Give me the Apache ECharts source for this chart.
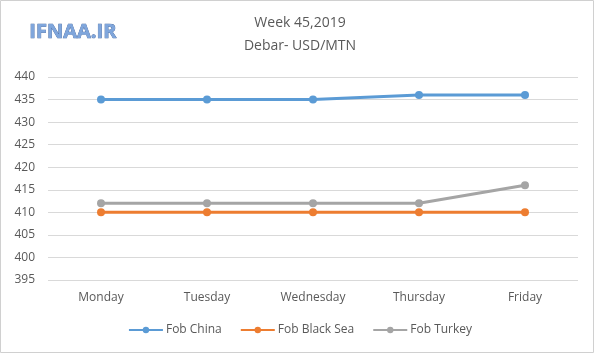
<!DOCTYPE html>
<html><head><meta charset="utf-8">
<script src="https://cdn.jsdelivr.net/npm/echarts@6/dist/echarts.min.js"></script>
<style>html,body{margin:0;padding:0;background:#fff}#c{width:600px;height:357px}</style>
</head><body><div id="c"></div>
<script>
const categories = ['Monday','Tuesday','Wednesday','Thursday','Friday'];
const fobChina = [435,435,435,436,436];
const fobBlackSea = [410,410,410,410,410];
const fobTurkey = [412,412,412,412,416];
const seriesNames = ['Fob China','Fob Black Sea','Fob Turkey'];
const colors = ['#5B9BD5','#ED7D31','#A5A5A5'];

const chart = echarts.init(document.getElementById('c'));
const mk = (name, data, color) => ({
  name, type:'line', data, color,
  symbol:'circle', symbolSize:8,
  lineStyle:{width:3, color},
  itemStyle:{color},
  animation:false
});
chart.setOption({
  animation:false,
  graphic:[
    {type:'rect', shape:{x:0.5,y:0.5,width:593,height:352}, style:{fill:'none',stroke:'#d0d0d0',lineWidth:1}},
    {type:'text', left:29, top:22, style:{text:'IFNAA.IR', fill:'#7fa6dc', font:'bold 20px "Open Sans", Arial, sans-serif', stroke:'#3a5f9a', lineWidth:0.7, shadowColor:'rgba(60,90,150,0.5)', shadowBlur:2, shadowOffsetX:1, shadowOffsetY:1}}
  ],
  title:{
    text:'Week 45,2019\nDebar- USD/MTN',
    left:'center', top:7,
    textStyle:{color:'#595959', fontSize:14, fontWeight:'normal', lineHeight:23, fontFamily:'"Open Sans", Arial, sans-serif'}
  },
  legend:{
    bottom:16, left:'center', itemWidth:34, itemHeight:8, itemGap:18,
    textStyle:{color:'#595959', fontSize:12, padding:[0,0,0,-2], fontFamily:'"Open Sans", Arial, sans-serif'},
    data:seriesNames
  },
  grid:{left:48, right:22, top:77, bottom:77, containLabel:false},
  xAxis:{
    type:'category', data:categories, boundaryGap:true,
    axisLine:{show:false}, axisTick:{show:false},
    axisLabel:{color:'#595959', fontSize:12, margin:12, fontFamily:'"Open Sans", Arial, sans-serif'}
  },
  yAxis:{
    type:'value', min:395, max:440, interval:5,
    axisLine:{show:false}, axisTick:{show:false},
    splitLine:{lineStyle:{color:'#d9d9d9', width:1}},
    axisLabel:{color:'#595959', fontSize:12, margin:13, fontFamily:'"Open Sans", Arial, sans-serif'}
  },
  series:[
    mk(seriesNames[0], fobChina, colors[0]),
    mk(seriesNames[1], fobBlackSea, colors[1]),
    mk(seriesNames[2], fobTurkey, colors[2])
  ]
});
</script></body></html>
